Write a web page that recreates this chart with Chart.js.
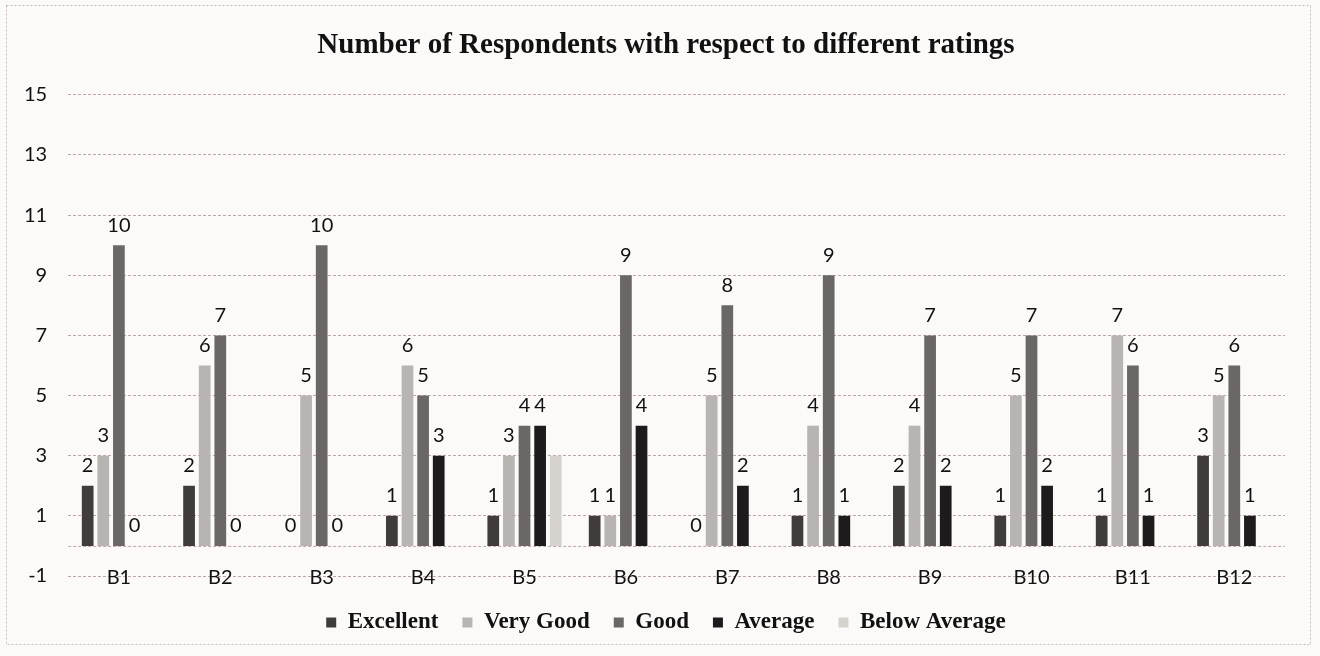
<!DOCTYPE html>
<html>
<head>
<meta charset="utf-8">
<script src="https://cdn.jsdelivr.net/npm/chart.js@4"></script>
<style>
  html, body { margin: 0; padding: 0; background: #fbfaf8; }
  #wrap { width: 1320px; height: 656px; }
</style>
</head>
<body>
<div id="wrap"><canvas id="myChart" width="1320" height="656"></canvas></div>
<script>
// data
const categories = ['B1', 'B2', 'B3', 'B4', 'B5', 'B6', 'B7', 'B8', 'B9', 'B10', 'B11', 'B12']
const excellent = [2, 2, 0, 1, 1, 1, 0, 1, 2, 1, 1, 3]
const veryGood  = [3, 6, 5, 6, 3, 1, 5, 4, 4, 5, 7, 5]
const good      = [10, 7, 10, 5, 4, 9, 8, 9, 7, 7, 6, 6]
const average   = [0, 0, 0, 3, 4, 4, 2, 1, 2, 2, 1, 1]
const belowAvg  = [null, null, null, null, 3, null, null, null, null, null, null, null]
const yTicks = [-1, 1, 3, 5, 7, 9, 11, 13, 15]

const gridColor = 'rgba(175, 135, 135, 0.75)'

// value labels above the bars (Below Average has none in the original)
const valueLabels = {
  id: 'valueLabels',
  afterDatasetsDraw(chart) {
    let ctx = chart.ctx
    ctx.save()
    ctx.font = '20px Lato'
    ctx.fillStyle = '#111'
    ctx.textAlign = 'center'
    ctx.textBaseline = 'bottom'
    chart.data.datasets.forEach((ds, i) => {
      if(ds.noLabels) return
      let meta = chart.getDatasetMeta(i)
      meta.data.forEach((bar, j) => {
        let v = ds.data[j]
        if(v == null) return
        ctx.fillText(String(v), bar.x, bar.y - 10)
      })
    })
    ctx.restore()
  }
}

// dotted line at zero, faint frame, and title/legend centred like the original
const extras = {
  id: 'extras',
  afterLayout(chart) {
    ;[chart.titleBlock, chart.legend].forEach(b => {
      let d = 666 - (b.left + b.right) / 2
      b.left += d
      b.right += d
    })
  },
  beforeDatasetsDraw(chart) {
    let ctx = chart.ctx
    let y0 = chart.scales.y.getPixelForValue(0)
    ctx.save()
    ctx.strokeStyle = gridColor
    ctx.lineWidth = 1
    ctx.setLineDash([3, 2])
    ctx.beginPath()
    ctx.moveTo(chart.chartArea.left, y0 + 0.5)
    ctx.lineTo(chart.chartArea.right, y0 + 0.5)
    ctx.stroke()
    ctx.restore()
  },
  afterDraw(chart) {
    let ctx = chart.ctx
    ctx.save()
    ctx.strokeStyle = 'rgba(170, 140, 140, 0.6)'
    ctx.lineWidth = 1
    ctx.setLineDash([2, 2])
    ctx.strokeRect(6.5, 5.5, 1304, 639)
    ctx.restore()
  }
}

let ctx = document.getElementById('myChart').getContext('2d')

let myBarChart = new Chart(ctx, {
  type: 'bar',
  data: {
    labels: categories,
    datasets: [
      { label: 'Excellent',     data: excellent, backgroundColor: '#3f3c3b' },
      { label: 'Very Good',     data: veryGood,  backgroundColor: '#b8b4b1' },
      { label: 'Good',          data: good,      backgroundColor: '#6b6766' },
      { label: 'Average',       data: average,   backgroundColor: '#1d1b1b' },
      { label: 'Below Average', data: belowAvg,  backgroundColor: '#d6d2ce', noLabels: true }
    ]
  },
  plugins: [valueLabels, extras],
  options: {
    responsive: false,
    animation: false,
    categoryPercentage: 0.77,
    barPercentage: 0.75,
    layout: { padding: { left: 3, right: 35, top: 28, bottom: 12 } },
    plugins: {
      title: {
        display: true,
        text: 'Number of Respondents with respect to different ratings',
        color: '#111',
        font: { family: 'Liberation Serif', size: 29, weight: 'bold' },
        padding: { top: 0, bottom: 32 }
      },
      legend: {
        position: 'bottom',
        labels: {
          color: '#111',
          font: { family: 'Liberation Serif', size: 23, weight: 'bold' },
          boxWidth: 10,
          boxHeight: 10,
          padding: 24
        }
      },
      tooltip: { enabled: false }
    },
    scales: {
      x: {
        afterFit(scale) { scale.height = 11 },
        grid: { display: false, drawTicks: false },
        border: { display: false },
        ticks: { color: '#111', font: { family: 'Lato', size: 20 }, mirror: true, padding: -14 }
      },
      y: {
        min: -1,
        max: 15,
        afterBuildTicks(axis) { axis.ticks = yTicks.map(v => ({ value: v })) },
        grid: { color: gridColor, drawTicks: false },
        border: { display: false, dash: [3, 2] },
        ticks: { color: '#111', font: { family: 'Lato', size: 20 }, padding: 21 }
      }
    }
  }
})
</script>
</body>
</html>
